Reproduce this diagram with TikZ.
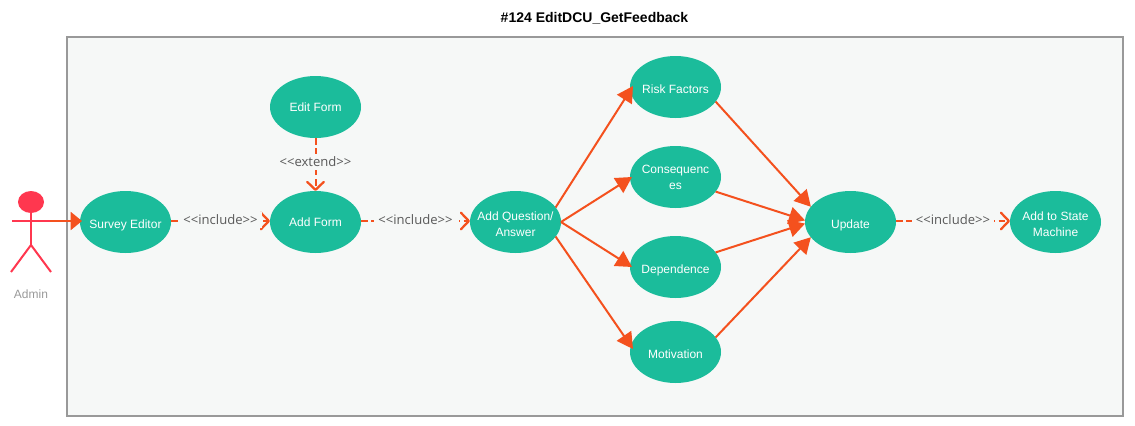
\documentclass[tikz,border=0pt]{standalone}
\usepackage{fontspec}
\setmainfont{Liberation Sans}
\newfontfamily\lblfont{Open Sans}
\usetikzlibrary{arrows.meta,shapes.geometric}
\definecolor{teal1}{HTML}{1BBC9B}
\definecolor{org}{HTML}{F4511E}
\definecolor{bgc}{HTML}{F6F8F7}
\definecolor{pinkc}{HTML}{FF374F}
\newcommand{\uct}[2][-3.4pt]{\raisebox{#1}[0pt][0pt]{\makebox[0pt]{\begin{tabular}{@{}c@{}}#2\end{tabular}}}}
\tikzset{
  x=0.75pt,y=-0.75pt,
  uc/.style={ellipse,fill=teal1,text=white,minimum width=68.25pt,minimum height=46.5pt,inner sep=0pt,outer sep=0pt,font=\fontsize{9}{12}\selectfont},
  solidarr/.style={draw=org,line width=1.5pt,-{Triangle[length=12pt,width=13pt,fill=org]}},
  dasharr/.style={draw=org,line width=1.5pt,dash pattern=on 5pt off 2.7pt,-{Straight Barb[length=6pt,width=12.5pt,line width=1.7pt,round]}},
  lbl/.style={fill=bgc,text=black!65,inner xsep=3pt,inner ysep=2pt,yshift=0.75pt,font=\lblfont\fontsize{9.8}{11}\selectfont},
  actorline/.style={draw=pinkc,line width=1.5pt},
}
\begin{document}
\begin{tikzpicture}
\useasboundingbox (0,0) rectangle (1135,425);
\node[font=\bfseries\fontsize{10.5}{12}\selectfont,text=black] (title) at (594.5,18.7) {\#124 EditDCU\_GetFeedback};
\draw[draw=black!40,line width=1.5pt,fill=bgc] (67,37) rectangle (1123,416);
% actor
\node[ellipse,fill=pinkc,minimum width=19.5pt,minimum height=16.5pt,inner sep=0pt] (head) at (31,202) {};
\coordinate (hip) at (31,245);
\coordinate (armL) at (12,221);
\coordinate (armR) at (50,221);
\coordinate (footL) at (11,272);
\coordinate (footR) at (51,272);
\draw[actorline] (head.center) -- (hip);
\draw[actorline] (armL) -- (armR);
\draw[actorline] (footL) -- (hip) -- (footR);
\node[font=\fontsize{9}{11}\selectfont,text=black!40] (admin) at (31,294) {Admin};
% use cases
\node[uc] (se) at (125.5,222) {\uct[-5pt]{Survey Editor}};
\node[uc] (af) at (315.5,222) {\uct{Add Form}};
\node[uc] (ef) at (315.5,107) {\uct{Edit Form}};
\node[uc] (aq) at (515.5,222) {\uct[-5pt]{Add Question/\\Answer}};
\node[uc] (rf) at (675.5,87) {\uct[-5pt]{Risk Factors}};
\node[uc] (co) at (675.5,177) {\uct{Consequenc\\es}};
\node[uc] (de) at (675.5,267) {\uct[-5pt]{Dependence}};
\node[uc] (mo) at (675.5,352) {\uct[-5pt]{Motivation}};
\node[uc] (up) at (850.5,222) {\uct[-5pt]{Update}};
\node[uc] (sm) at (1055.5,222) {\uct[-5pt]{Add to State\\Machine}};
% connectors
\coordinate (actorhand) at (50,221);
\draw[solidarr,-{Triangle[length=8.5pt,width=13.5pt,fill=org]},shorten >=-1.5pt] (actorhand) -- (se.west |- actorhand);
\draw[dasharr] (se.east |- 0,221) -- node[lbl] (l1) {<{}<include>{}>} (af.west |- 0,221);
\draw[dasharr] (af.east |- 0,221) -- node[lbl,xshift=0.9pt] (l2) {<{}<include>{}>\hspace*{1.8pt}} (aq.west |- 0,221);
\draw[dasharr] (up.east |- 0,221) -- node[lbl] (l3) {<{}<include>{}>} (sm.west |- 0,221);
\draw[dasharr] (ef.south) -- node[lbl,pos=0.47] (l4) {<{}<extend>{}>} (af.north);
\draw[solidarr] (aq.20.5) -- ([shift={(3,-1)}]rf.west);
\draw[solidarr] (aq.east) -- ([xshift=1.5pt]co.west);
\draw[solidarr] (aq.east) -- ([xshift=1.5pt]de.west);
\draw[solidarr] (aq.-20.5) -- ([shift={(3,-3)}]mo.west);
\draw[solidarr] (rf.-20) -- (up.159);
\draw[solidarr] (co.-20) -- (up.178);
\draw[solidarr] (de.20) -- (up.182);
\draw[solidarr] (mo.20) -- (up.201);
\end{tikzpicture}
\end{document}
